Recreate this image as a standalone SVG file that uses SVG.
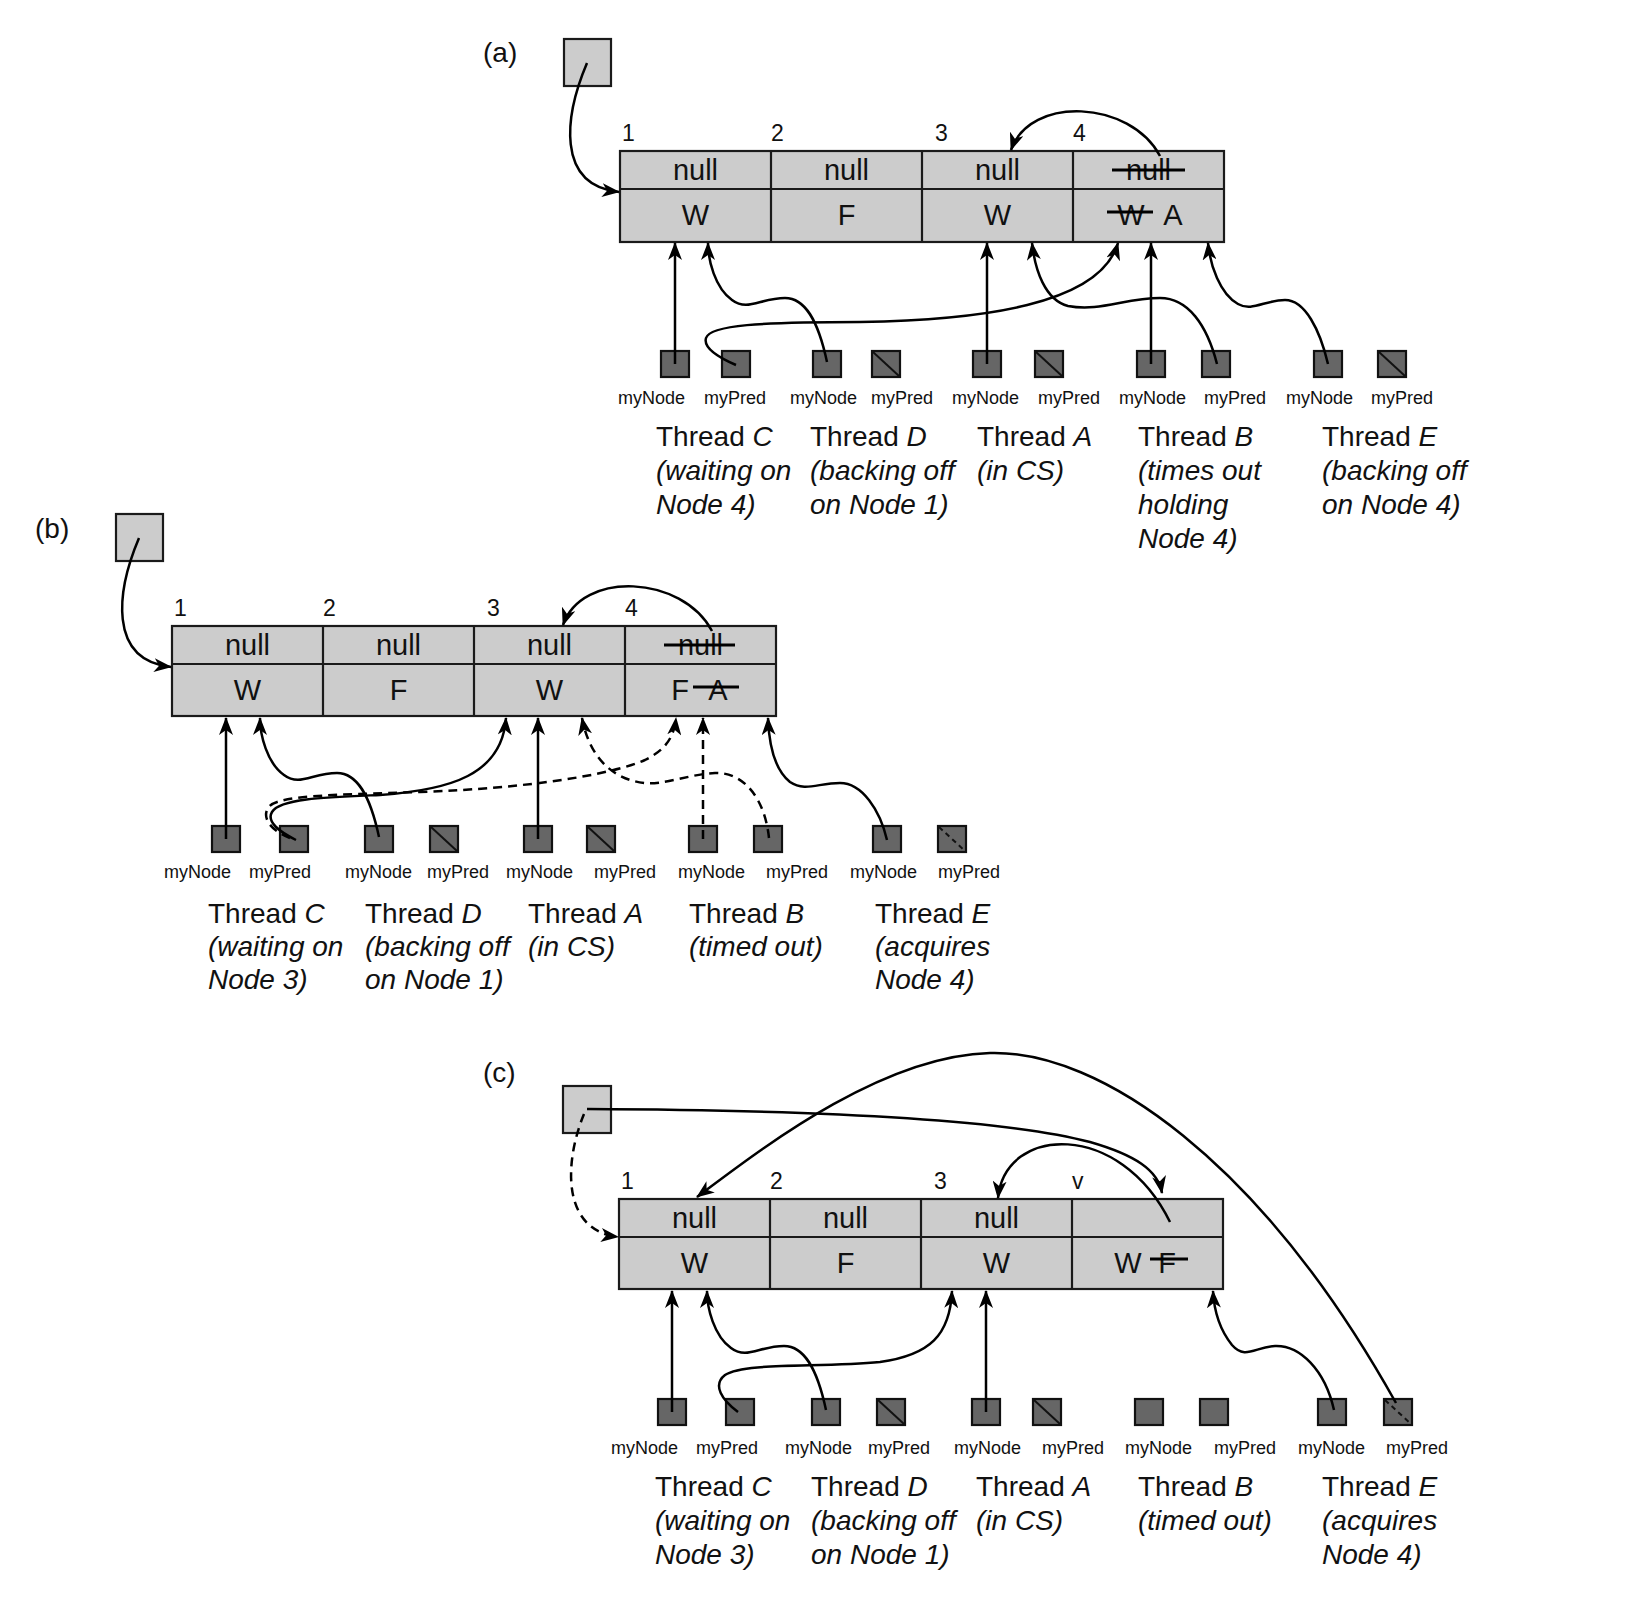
<svg xmlns="http://www.w3.org/2000/svg" width="1625" height="1601" viewBox="0 0 1625 1601">
<style>
text{font-family:"Liberation Sans",Arial,sans-serif;fill:#111}
.tb{fill:#cccccc;stroke:#1a1a1a;stroke-width:2.2}
.dv{stroke:#1a1a1a;stroke-width:2.2;fill:none}
.cell{font-size:29px;text-anchor:middle}
.num{font-size:23px}
.pl{font-size:28px}
.tbox{fill:#666666;stroke:#111;stroke-width:2.2}
.sl{stroke:#111;stroke-width:2;fill:none}
.sld{stroke:#111;stroke-width:2;fill:none;stroke-dasharray:5 4}
.lab{font-size:18px}
.thr{font-size:28px}
.it{font-style:italic}
.strike{stroke:#000;stroke-width:3}
.c{fill:none;stroke:#000;stroke-width:2.5;marker-end:url(#ah)}
.d{fill:none;stroke:#000;stroke-width:2.5;stroke-dasharray:9 6;marker-end:url(#ah)}
</style>
<defs>
<marker id="ah" viewBox="0 0 18 14" refX="17" refY="7" markerWidth="18" markerHeight="14" markerUnits="userSpaceOnUse" orient="auto">
<path d="M0,0 L18,7 L0,14 L5,7 z" fill="#000"/>
</marker>
</defs>
<rect width="1625" height="1601" fill="#fff"/>

<!-- ================= PANEL (a) ================= -->
<g id="panel-a">
<text class="pl" x="483" y="62">(a)</text>
<g id="a-tail"><rect class="tb" x="564" y="39" width="47" height="47"/></g>
<g id="a-queue">
<rect class="tb" x="620" y="151" width="604" height="91"/>
<path class="dv" d="M620 189 H1224 M771 151 V242 M922 151 V242 M1073 151 V242"/>
<text class="num" x="622" y="141">1</text>
<text class="num" x="771" y="141">2</text>
<text class="num" x="935" y="141">3</text>
<text class="num" x="1073" y="141">4</text>
<text class="cell" x="695.5" y="180">null</text>
<text class="cell" x="846.5" y="180">null</text>
<text class="cell" x="997.5" y="180">null</text>
<text class="cell" x="1148.5" y="180">null</text>
<line class="strike" x1="1112" y1="170" x2="1185" y2="170"/>
<text class="cell" x="695.5" y="225">W</text>
<text class="cell" x="846.5" y="225">F</text>
<text class="cell" x="997.5" y="225">W</text>
<text class="cell" x="1131" y="225">W</text>
<text class="cell" x="1173" y="225">A</text>
<line class="strike" x1="1107" y1="212" x2="1153" y2="212"/>
</g>
<g id="a-threadC">
<rect class="tbox" x="661" y="351" width="28" height="26"/>
<rect class="tbox" x="722" y="351" width="28" height="26"/>
<text class="lab" x="618" y="404">myNode</text><text class="lab" x="704" y="404">myPred</text>
<text class="thr" x="656" y="446">Thread <tspan class="it">C</tspan></text>
<text class="thr it" x="656" y="480">(waiting on</text>
<text class="thr it" x="656" y="514">Node 4)</text>
</g>
<g id="a-threadD">
<rect class="tbox" x="813" y="351" width="28" height="26"/>
<rect class="tbox" x="872" y="351" width="28" height="26"/>
<line class="sl" x1="873" y1="352" x2="899" y2="376"/>
<text class="lab" x="790" y="404">myNode</text><text class="lab" x="871" y="404">myPred</text>
<text class="thr" x="810" y="446">Thread <tspan class="it">D</tspan></text>
<text class="thr it" x="810" y="480">(backing off</text>
<text class="thr it" x="810" y="514">on Node 1)</text>
</g>
<g id="a-threadA">
<rect class="tbox" x="973" y="351" width="28" height="26"/>
<rect class="tbox" x="1035" y="351" width="28" height="26"/>
<line class="sl" x1="1036" y1="352" x2="1062" y2="376"/>
<text class="lab" x="952" y="404">myNode</text><text class="lab" x="1038" y="404">myPred</text>
<text class="thr" x="977" y="446">Thread <tspan class="it">A</tspan></text>
<text class="thr it" x="977" y="480">(in CS)</text>
</g>
<g id="a-threadB">
<rect class="tbox" x="1137" y="351" width="28" height="26"/>
<rect class="tbox" x="1202" y="351" width="28" height="26"/>
<text class="lab" x="1119" y="404">myNode</text><text class="lab" x="1204" y="404">myPred</text>
<text class="thr" x="1138" y="446">Thread <tspan class="it">B</tspan></text>
<text class="thr it" x="1138" y="480">(times out</text>
<text class="thr it" x="1138" y="514">holding</text>
<text class="thr it" x="1138" y="548">Node 4)</text>
</g>
<g id="a-threadE">
<rect class="tbox" x="1314" y="351" width="28" height="26"/>
<rect class="tbox" x="1378" y="351" width="28" height="26"/>
<line class="sl" x1="1379" y1="352" x2="1405" y2="376"/>
<text class="lab" x="1286" y="404">myNode</text><text class="lab" x="1371" y="404">myPred</text>
<text class="thr" x="1322" y="446">Thread <tspan class="it">E</tspan></text>
<text class="thr it" x="1322" y="480">(backing off</text>
<text class="thr it" x="1322" y="514">on Node 4)</text>
</g>
<g id="a-connectors">
<path class="c" d="M587 63 C565 115, 555 185, 619 192"/>
<path class="c" d="M1160 156 C1130 100, 1030 95, 1011 150"/>
<path class="c" d="M675 364 L675 243"/>
<path class="c" d="M736 365 C720 358, 703 348, 706 338 C710 325, 760 322, 860 322 C980 320, 1100 305, 1118 243"/>
<path class="c" d="M827 362 C818 320, 805 298, 785 298 C760 298, 748 312, 732 300 C715 288, 708 260, 708 243"/>
<path class="c" d="M987 364 L987 243"/>
<path class="c" d="M1151 364 L1151 243"/>
<path class="c" d="M1217 364 C1207 325, 1188 298, 1160 298 C1125 298, 1100 312, 1068 306 C1045 300, 1035 270, 1032 243"/>
<path class="c" d="M1328 364 C1320 330, 1305 300, 1285 300 C1265 300, 1252 312, 1238 304 C1220 294, 1210 265, 1208 243"/>
</g>
</g>

<!-- ================= PANEL (b) ================= -->
<g id="panel-b">
<text class="pl" x="35" y="538">(b)</text>
<g id="b-tail"><rect class="tb" x="116" y="514" width="47" height="47"/></g>
<g id="b-queue">
<rect class="tb" x="172" y="626" width="604" height="90"/>
<path class="dv" d="M172 664 H776 M323 626 V716 M474 626 V716 M625 626 V716"/>
<text class="num" x="174" y="616">1</text>
<text class="num" x="323" y="616">2</text>
<text class="num" x="487" y="616">3</text>
<text class="num" x="625" y="616">4</text>
<text class="cell" x="247.5" y="655">null</text>
<text class="cell" x="398.5" y="655">null</text>
<text class="cell" x="549.5" y="655">null</text>
<text class="cell" x="700.5" y="655">null</text>
<line class="strike" x1="664" y1="645" x2="735" y2="645"/>
<text class="cell" x="247.5" y="700">W</text>
<text class="cell" x="398.5" y="700">F</text>
<text class="cell" x="549.5" y="700">W</text>
<text class="cell" x="680" y="700">F</text>
<text class="cell" x="718" y="700">A</text>
<line class="strike" x1="693" y1="687" x2="739" y2="687"/>
</g>
<g id="b-threadC">
<rect class="tbox" x="212" y="826" width="28" height="26"/>
<rect class="tbox" x="280" y="826" width="28" height="26"/>
<text class="lab" x="164" y="878">myNode</text><text class="lab" x="249" y="878">myPred</text>
<text class="thr" x="208" y="923">Thread <tspan class="it">C</tspan></text>
<text class="thr it" x="208" y="956">(waiting on</text>
<text class="thr it" x="208" y="989">Node 3)</text>
</g>
<g id="b-threadD">
<rect class="tbox" x="365" y="826" width="28" height="26"/>
<rect class="tbox" x="430" y="826" width="28" height="26"/>
<line class="sl" x1="431" y1="827" x2="457" y2="851"/>
<text class="lab" x="345" y="878">myNode</text><text class="lab" x="427" y="878">myPred</text>
<text class="thr" x="365" y="923">Thread <tspan class="it">D</tspan></text>
<text class="thr it" x="365" y="956">(backing off</text>
<text class="thr it" x="365" y="989">on Node 1)</text>
</g>
<g id="b-threadA">
<rect class="tbox" x="524" y="826" width="28" height="26"/>
<rect class="tbox" x="587" y="826" width="28" height="26"/>
<line class="sl" x1="588" y1="827" x2="614" y2="851"/>
<text class="lab" x="506" y="878">myNode</text><text class="lab" x="594" y="878">myPred</text>
<text class="thr" x="528" y="923">Thread <tspan class="it">A</tspan></text>
<text class="thr it" x="528" y="956">(in CS)</text>
</g>
<g id="b-threadB">
<rect class="tbox" x="689" y="826" width="28" height="26"/>
<rect class="tbox" x="754" y="826" width="28" height="26"/>
<text class="lab" x="678" y="878">myNode</text><text class="lab" x="766" y="878">myPred</text>
<text class="thr" x="689" y="923">Thread <tspan class="it">B</tspan></text>
<text class="thr it" x="689" y="956">(timed out)</text>
</g>
<g id="b-threadE">
<rect class="tbox" x="873" y="826" width="28" height="26"/>
<rect class="tbox" x="938" y="826" width="28" height="26"/>
<line class="sld" x1="939" y1="827" x2="965" y2="851"/>
<text class="lab" x="850" y="878">myNode</text><text class="lab" x="938" y="878">myPred</text>
<text class="thr" x="875" y="923">Thread <tspan class="it">E</tspan></text>
<text class="thr it" x="875" y="956">(acquires</text>
<text class="thr it" x="875" y="989">Node 4)</text>
</g>
<g id="b-connectors">
<path class="c" d="M139 538 C117 590, 107 660, 171 667"/>
<path class="c" d="M712 631 C682 575, 582 570, 563 625"/>
<path class="c" d="M226 839 L226 718"/>
<path class="c" d="M296 840 C280 832, 266 822, 272 812 C280 798, 330 797, 380 795 C450 790, 502 775, 506 718"/>
<path class="d" d="M290 838 C270 830, 262 818, 268 808 C276 795, 330 795, 420 792 C530 788, 610 775, 645 760 C665 750, 674 738, 676 718"/>
<path class="c" d="M379 837 C370 795, 357 773, 337 773 C312 773, 300 787, 284 775 C267 763, 260 735, 260 718"/>
<path class="c" d="M538 839 L538 718"/>
<path class="d" d="M703 839 L703 718"/>
<path class="d" d="M769 838 C765 800, 745 772, 715 773 C690 774, 665 785, 645 783 C615 780, 590 760, 582 718"/>
<path class="c" d="M887 840 C880 810, 862 783, 840 783 C818 783, 805 792, 790 782 C775 770, 769 745, 768 718"/>
</g>
</g>

<!-- ================= PANEL (c) ================= -->
<g id="panel-c">
<text class="pl" x="483" y="1082">(c)</text>
<g id="c-tail"><rect class="tb" x="563" y="1086" width="48" height="47"/></g>
<g id="c-queue">
<rect class="tb" x="619" y="1199" width="604" height="90"/>
<path class="dv" d="M619 1237 H1223 M770 1199 V1289 M921 1199 V1289 M1072 1199 V1289"/>
<text class="num" x="621" y="1189">1</text>
<text class="num" x="770" y="1189">2</text>
<text class="num" x="934" y="1189">3</text>
<text class="num" x="1072" y="1189">v</text>
<text class="cell" x="694.5" y="1228">null</text>
<text class="cell" x="845.5" y="1228">null</text>
<text class="cell" x="996.5" y="1228">null</text>
<text class="cell" x="694.5" y="1273">W</text>
<text class="cell" x="845.5" y="1273">F</text>
<text class="cell" x="996.5" y="1273">W</text>
<text class="cell" x="1128" y="1273">W</text>
<text class="cell" x="1167" y="1273">F</text>
<line class="strike" x1="1150" y1="1259" x2="1188" y2="1259"/>
</g>
<g id="c-threadC">
<rect class="tbox" x="658" y="1399" width="28" height="26"/>
<rect class="tbox" x="726" y="1399" width="28" height="26"/>
<text class="lab" x="611" y="1454">myNode</text><text class="lab" x="696" y="1454">myPred</text>
<text class="thr" x="655" y="1496">Thread <tspan class="it">C</tspan></text>
<text class="thr it" x="655" y="1530">(waiting on</text>
<text class="thr it" x="655" y="1564">Node 3)</text>
</g>
<g id="c-threadD">
<rect class="tbox" x="812" y="1399" width="28" height="26"/>
<rect class="tbox" x="877" y="1399" width="28" height="26"/>
<line class="sl" x1="878" y1="1400" x2="904" y2="1424"/>
<text class="lab" x="785" y="1454">myNode</text><text class="lab" x="868" y="1454">myPred</text>
<text class="thr" x="811" y="1496">Thread <tspan class="it">D</tspan></text>
<text class="thr it" x="811" y="1530">(backing off</text>
<text class="thr it" x="811" y="1564">on Node 1)</text>
</g>
<g id="c-threadA">
<rect class="tbox" x="972" y="1399" width="28" height="26"/>
<rect class="tbox" x="1033" y="1399" width="28" height="26"/>
<line class="sl" x1="1034" y1="1400" x2="1060" y2="1424"/>
<text class="lab" x="954" y="1454">myNode</text><text class="lab" x="1042" y="1454">myPred</text>
<text class="thr" x="976" y="1496">Thread <tspan class="it">A</tspan></text>
<text class="thr it" x="976" y="1530">(in CS)</text>
</g>
<g id="c-threadB">
<rect class="tbox" x="1135" y="1399" width="28" height="26"/>
<rect class="tbox" x="1200" y="1399" width="28" height="26"/>
<text class="lab" x="1125" y="1454">myNode</text><text class="lab" x="1214" y="1454">myPred</text>
<text class="thr" x="1138" y="1496">Thread <tspan class="it">B</tspan></text>
<text class="thr it" x="1138" y="1530">(timed out)</text>
</g>
<g id="c-threadE">
<rect class="tbox" x="1318" y="1399" width="28" height="26"/>
<rect class="tbox" x="1384" y="1399" width="28" height="26"/>
<line class="sld" x1="1385" y1="1400" x2="1411" y2="1424"/>
<text class="lab" x="1298" y="1454">myNode</text><text class="lab" x="1386" y="1454">myPred</text>
<text class="thr" x="1322" y="1496">Thread <tspan class="it">E</tspan></text>
<text class="thr it" x="1322" y="1530">(acquires</text>
<text class="thr it" x="1322" y="1564">Node 4)</text>
</g>
<g id="c-connectors">
<path class="d" d="M584 1114 C565 1160, 560 1230, 618 1237"/>
<path class="c" d="M587 1109 C800 1110, 1000 1118, 1090 1142 C1135 1155, 1158 1170, 1162 1193"/>
<path class="c" d="M1170 1222 C1120 1120, 1005 1125, 998 1198"/>
<path class="c" d="M1396 1403 C1260 1160, 1100 1050, 990 1053 C880 1056, 760 1150, 697 1197"/>
<path class="c" d="M672 1412 L672 1291"/>
<path class="c" d="M738 1412 C722 1400, 712 1385, 725 1375 C745 1362, 820 1368, 880 1362 C930 1355, 950 1335, 952 1291"/>
<path class="c" d="M826 1410 C817 1368, 804 1346, 784 1346 C759 1346, 747 1360, 731 1348 C714 1336, 707 1308, 707 1291"/>
<path class="c" d="M986 1412 L986 1291"/>
<path class="c" d="M1334 1410 C1325 1370, 1300 1345, 1275 1346 C1255 1347, 1245 1360, 1232 1345 C1220 1330, 1214 1310, 1213 1291"/>
</g>
</g>
</svg>
